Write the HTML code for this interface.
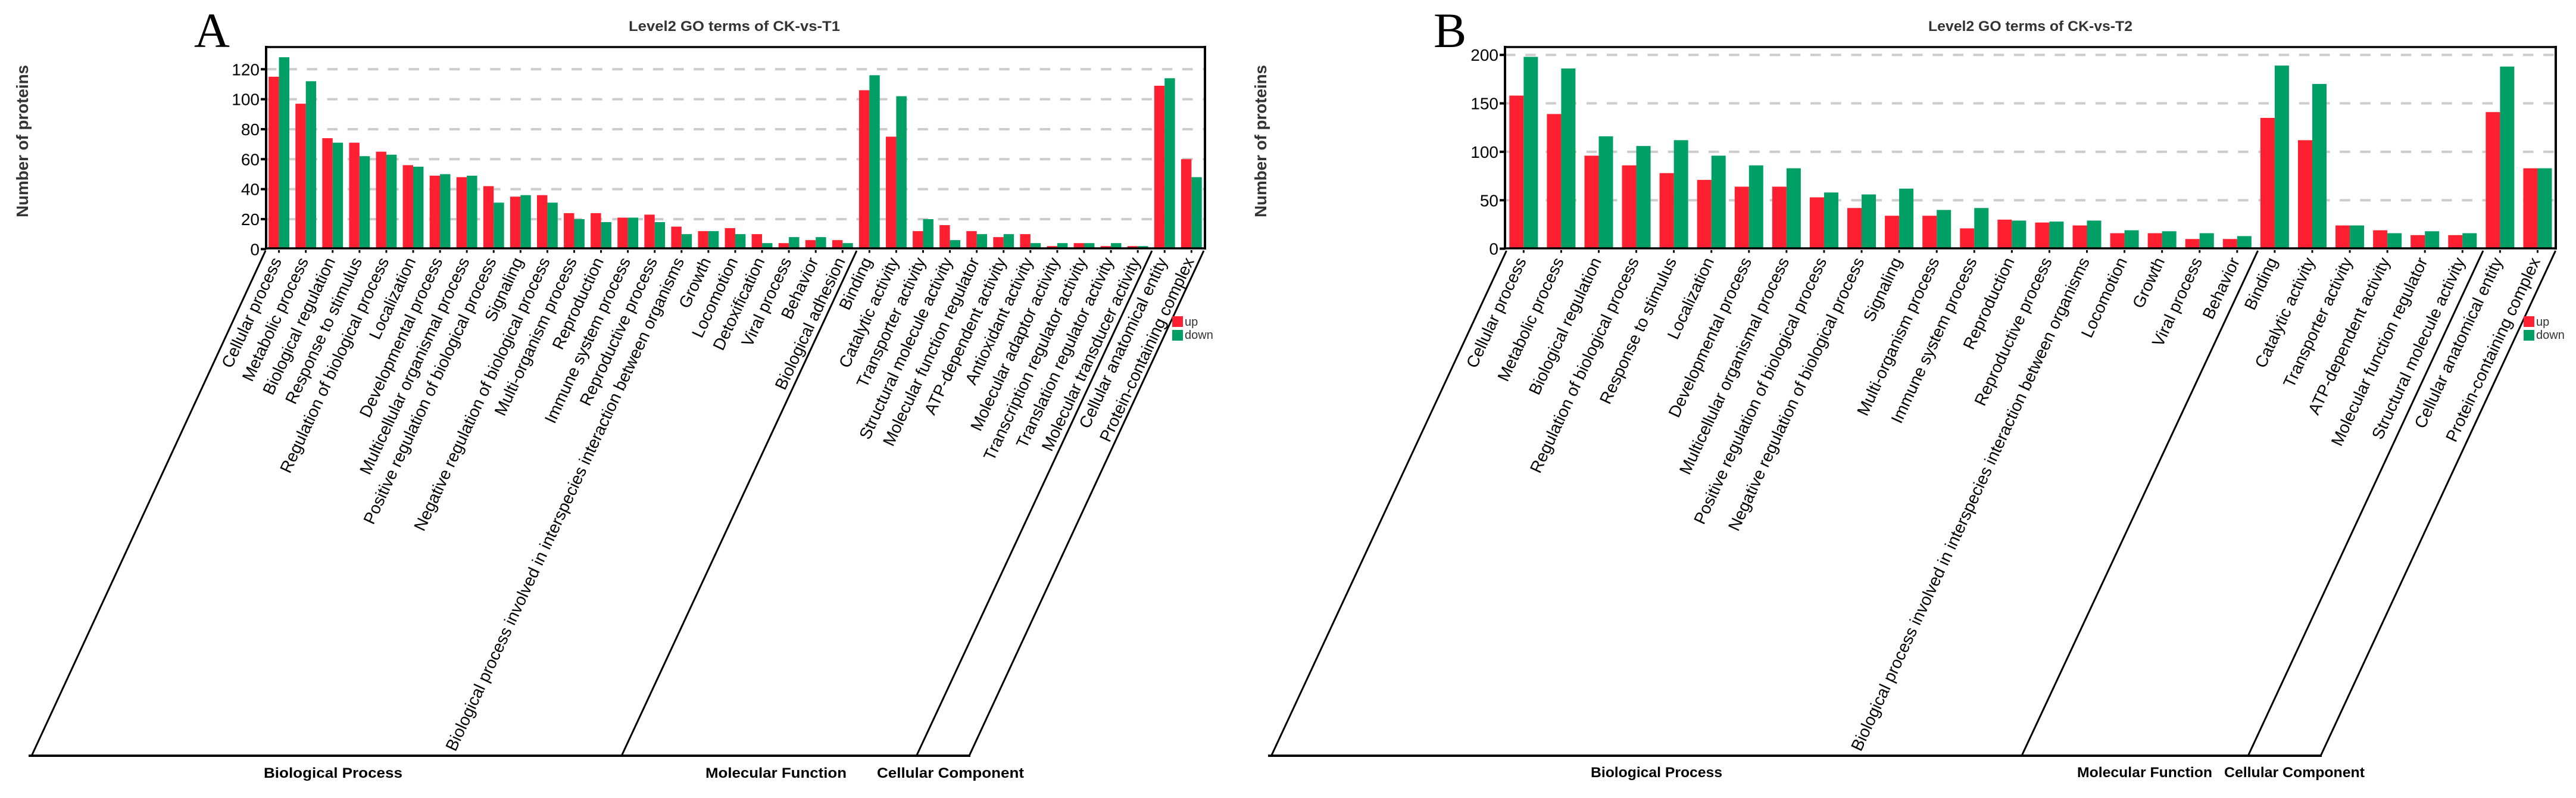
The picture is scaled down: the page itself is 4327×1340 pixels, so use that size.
<!DOCTYPE html>
<html lang="en">
<head>
<meta charset="utf-8">
<title>Level2 GO terms of CK-vs-T1 and CK-vs-T2</title>
<style>
html,body{margin:0;padding:0;background:#fff;}
svg{display:block;}
text{font-family:"Liberation Sans",Arial,sans-serif;}
.letter{font-family:"Liberation Serif",serif;font-size:83px;fill:#000;}
.title{font-size:24px;font-weight:bold;fill:#333;}
.ytitle{font-size:28px;font-weight:bold;fill:#333;}
.group{font-size:24px;font-weight:bold;fill:#000;}
.leg{font-size:20px;fill:#333;}
.sep{stroke:#000;stroke-width:3;fill:none;}
.frame{stroke:#000;fill:none;}
</style>
</head>
<body>
<svg id="figure" xmlns="http://www.w3.org/2000/svg" width="4327" height="1340" viewBox="0 0 4327 1340">
  <rect width="4327" height="1340" fill="#fff"/>

  <g id="panel-a">
    <text class="letter" x="326" y="79">A</text>
    <text class="title" x="1056" y="52" textLength="355" lengthAdjust="spacingAndGlyphs">Level2 GO terms of CK-vs-T1</text>
    <text class="ytitle" transform="translate(47,365) rotate(-90)" textLength="256" lengthAdjust="spacingAndGlyphs">Number of proteins</text>
    <g id="a-grid"></g>
    <g id="a-bars"></g>
    <g id="a-yticks"></g>
    <g id="a-xticks"></g>
    <line class="frame" x1="447" y1="79" x2="2024" y2="79" stroke-width="3.6"/>
    <line class="frame" x1="447" y1="77" x2="447" y2="419" stroke-width="4"/>
    <line class="frame" x1="2024" y1="77" x2="2024" y2="419" stroke-width="4"/>
    <line class="frame" x1="445" y1="417" x2="2026" y2="417" stroke-width="3.6"/>
    <line class="sep" x1="446" y1="421" x2="53.6" y2="1268"/>
    <line class="sep" x1="1439" y1="421" x2="1044.6" y2="1268"/>
    <line class="sep" x1="1935" y1="421" x2="1540" y2="1268"/>
    <line class="sep" x1="2022" y1="421" x2="1628.5" y2="1268"/>
    <line class="frame" x1="48" y1="1269" x2="1630" y2="1269" stroke-width="4"/>
    <text class="group" x="443" y="1306" textLength="233" lengthAdjust="spacingAndGlyphs">Biological Process</text>
    <text class="group" x="1185" y="1306" textLength="237" lengthAdjust="spacingAndGlyphs">Molecular Function</text>
    <text class="group" x="1473" y="1306" textLength="247" lengthAdjust="spacingAndGlyphs">Cellular Component</text>
    <rect x="1969" y="531" width="18" height="18" fill="#FE2030"/>
    <rect x="1969" y="554" width="18" height="18" fill="#009F65"/>
    <text class="leg" x="1990" y="547">up</text>
    <text class="leg" x="1990" y="569">down</text>
  </g>

  <g id="panel-b">
    <text class="letter" x="2408" y="79">B</text>
    <text class="title" x="3239" y="52" textLength="343" lengthAdjust="spacingAndGlyphs">Level2 GO terms of CK-vs-T2</text>
    <text class="ytitle" transform="translate(2127,365) rotate(-90)" textLength="256" lengthAdjust="spacingAndGlyphs">Number of proteins</text>
    <g id="b-grid"></g>
    <g id="b-bars"></g>
    <g id="b-yticks"></g>
    <g id="b-xticks"></g>
    <line class="frame" x1="2528" y1="79" x2="4293" y2="79" stroke-width="3.6"/>
    <line class="frame" x1="2528" y1="77" x2="2528" y2="419" stroke-width="4"/>
    <line class="frame" x1="4293" y1="77" x2="4293" y2="419" stroke-width="4"/>
    <line class="frame" x1="2526" y1="417" x2="4295" y2="417" stroke-width="3.6"/>
    <line class="sep" x1="2530.5" y1="421" x2="2136" y2="1268"/>
    <line class="sep" x1="3792.6" y1="421" x2="3396.4" y2="1268"/>
    <line class="sep" x1="4171" y1="421" x2="3776.7" y2="1268"/>
    <line class="sep" x1="4292.6" y1="421" x2="3898.6" y2="1268"/>
    <line class="frame" x1="2130" y1="1269" x2="3900" y2="1269" stroke-width="4"/>
    <text class="group" x="2672" y="1305" textLength="221" lengthAdjust="spacingAndGlyphs">Biological Process</text>
    <text class="group" x="3489" y="1305" textLength="227" lengthAdjust="spacingAndGlyphs">Molecular Function</text>
    <text class="group" x="3736" y="1305" textLength="236" lengthAdjust="spacingAndGlyphs">Cellular Component</text>
    <rect x="4239" y="531" width="18" height="18" fill="#FE2030"/>
    <rect x="4239" y="554" width="18" height="18" fill="#009F65"/>
    <text class="leg" x="4260" y="547">up</text>
    <text class="leg" x="4260" y="569">down</text>
  </g>
</svg>

<script>
const categoriesA = ["Cellular process","Metabolic process","Biological regulation","Response to stimulus","Regulation of biological process","Localization","Developmental process","Multicellular organismal process","Positive regulation of biological process","Signaling","Negative regulation of biological process","Multi-organism process","Reproduction","Immune system process","Reproductive process","Biological process involved in interspecies interaction between organisms","Growth","Locomotion","Detoxification","Viral process","Behavior","Biological adhesion","Binding","Catalytic activity","Transporter activity","Structural molecule activity","Molecular function regulator","ATP-dependent activity","Antioxidant activity","Molecular adaptor activity","Transcription regulator activity","Translation regulator activity","Molecular transducer activity","Cellular anatomical entity","Protein-containing complex"];
const upA = [115,97,74,71,65,56,49,48,42,35,36,24,24,21,23,15,12,14,10,4,6,6,106,75,12,16,12,8,10,2,4,2,2,109,60];
const downA = [128,112,71,62,63,55,50,49,31,36,31,20,18,21,18,10,12,10,4,8,8,4,116,102,20,6,10,10,4,4,4,4,2,114,48];
const yTicksA = [0,20,40,60,80,100,120];

const categoriesB = ["Cellular process","Metabolic process","Biological regulation","Regulation of biological process","Response to stimulus","Localization","Developmental process","Multicellular organismal process","Positive regulation of biological process","Negative regulation of biological process","Signaling","Multi-organism process","Immune system process","Reproduction","Reproductive process","Biological process involved in interspecies interaction between organisms","Locomotion","Growth","Viral process","Behavior","Binding","Catalytic activity","Transporter activity","ATP-dependent activity","Molecular function regulator","Structural molecule activity","Cellular anatomical entity","Protein-containing complex"];
const upB = [158,139,96,86,78,71,64,64,53,42,34,34,21,30,27,24,16,16,10,10,135,112,24,19,14,14,141,83];
const downB = [198,186,116,106,112,96,86,83,58,56,62,40,42,29,28,29,19,18,16,13,189,170,24,16,18,16,188,83];
const yTicksB = [0,50,100,150,200];

const SVG_NS = "http://www.w3.org/2000/svg";

function mk(parent, tag, attrs) {
  const el = document.createElementNS(SVG_NS, tag);
  for (const k in attrs) el.setAttribute(k, attrs[k]);
  parent.appendChild(el);
  return el;
}

function drawPanel(prefix, cats, up, down, ticks, geo) {
  const xCenter = i => geo.firstTick + i * geo.step;
  const yPos = v => geo.zeroY - v * geo.unit;
  const gridG = document.getElementById(prefix + "-grid");
  const barsG = document.getElementById(prefix + "-bars");
  const yG = document.getElementById(prefix + "-yticks");
  const xG = document.getElementById(prefix + "-xticks");

  ticks.forEach(t => {
    if (t !== 0) {
      const grid = mk(gridG, "line", {x1: geo.left, x2: geo.right, y1: yPos(t), y2: yPos(t), stroke: "#CCCCCC", "stroke-width": 4, "stroke-dasharray": "17.5 16.7"});
      
      
    }
    const tick = mk(yG, "line", {x1: geo.left - 9, x2: geo.left, y1: yPos(t), y2: yPos(t), stroke: "#000", "stroke-width": 4});
    
    
    const lab = mk(yG, "text", {x: geo.left - 11, y: yPos(t) + 10, "text-anchor": "end", "font-size": 28, fill: "#000"});
    lab.textContent = t;
    
    
  });

  cats.forEach((c, i) => {
    const cx = xCenter(i);
    const r = mk(barsG, "rect", {x: cx - geo.barW, y: yPos(up[i]), width: geo.barW, height: up[i] * geo.unit, fill: "#FE2030"});
    
    
    const g = mk(barsG, "rect", {x: cx, y: yPos(down[i]), width: geo.barW, height: down[i] * geo.unit, fill: "#009F65"});
    
    
    const tk = mk(xG, "line", {x1: cx, x2: cx, y1: 420, y2: 424.5, stroke: "#000", "stroke-width": 3});
    
    
    const t = mk(xG, "text", {transform: "translate(" + (cx + 5) + ",438) rotate(-65)", "text-anchor": "end", "font-size": 28, fill: "#000"});
    t.textContent = c;
    
    
  });
}

drawPanel("a", categoriesA, upA, downA, yTicksA, {firstTick: 468.6, step: 45.08, barW: 17.4, zeroY: 418.3, unit: 2.517, left: 447, right: 2022});
drawPanel("b", categoriesB, upB, downB, yTicksB, {firstTick: 2559.3, step: 63.08, barW: 24, zeroY: 417.6, unit: 1.627, left: 2528, right: 4291});
</script>
</body>
</html>
